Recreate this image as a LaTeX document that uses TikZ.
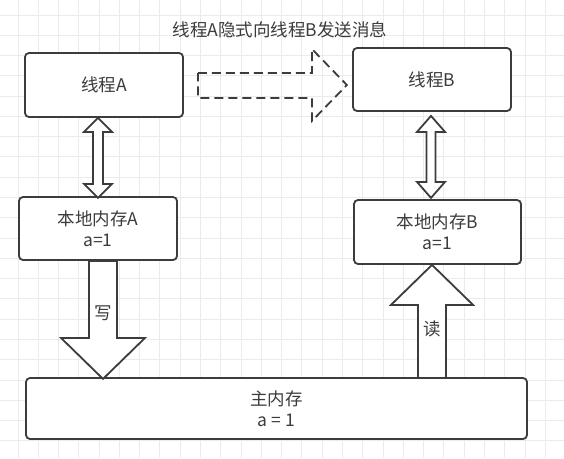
\documentclass[tikz,border=0pt]{standalone}
\usepackage{fontspec}
\setmainfont{Noto Sans CJK SC}
\usetikzlibrary{calc}
\definecolor{edge}{HTML}{3C3C3C}
\definecolor{gridgray}{HTML}{EBEBEB}
\tikzset{
	membox/.style={draw=edge, line width=1.8pt, fill=white, rounded corners=4pt, align=center, text=edge, inner sep=0pt},
	blockarrow/.style={draw=edge, line width=1.8pt, fill=white, line join=miter},
}

\begin{document}
\begin{tikzpicture}[x=1pt, y=-1pt, font=\fontsize{17.5}{21}\selectfont]
			%%%%% START %%%%%
			\useasboundingbox (0,0) rectangle (564,458);
			\fill[white] (0,0) rectangle (564,458);
			
			\foreach \k in {0,...,27} \draw[gridgray, line width=1pt] ({-2.28+20.28*\k},0) -- ({-2.28+20.28*\k},458);
			\foreach \k in {0,...,22} \draw[gridgray, line width=1pt] (0,{-5.28+20.28*\k}) -- (564,{-5.28+20.28*\k});
			
			\node[text=edge] (title) at (280,30) {线程A隐式向线程B发送消息};
			
			\node[membox, minimum width=158pt, minimum height=64pt] (thA) at (104,85) {线程A};
			\node[membox, minimum width=158pt, minimum height=63pt] (thB) at (432,79.5) {线程B};
			\node[membox, minimum width=158pt, minimum height=63pt] (lmA) at (98,228.5) {本地内存A\\a=1};
			\node[membox, minimum width=167pt, minimum height=64pt] (lmB) at (437.5,232) {本地内存B\\a=1};
			\node[membox, minimum width=501pt, minimum height=61pt] (main) at (276.5,408.5) {主内存\\a = 1};
			
			\coordinate (a1) at (lmA.north |- thA.south);
			\draw[blockarrow] (a1) -- ++(14,14) -- ++(-9,0) -- ++(0,52) -- ++(9,0) -- ++(-14,14) -- ++(-14,-14) -- ++(9,0) -- ++(0,-52) -- ++(-9,0) -- cycle;
			
			\coordinate (b1) at ($(thB.south)+(-1,4)$);
			\draw[blockarrow] (b1) -- ++(14,16) -- ++(-9.5,0) -- ++(0,50) -- ++(9.5,0) -- ++(-14,16) -- ++(-14,-16) -- ++(9.5,0) -- ++(0,-50) -- ++(-9.5,0) -- cycle;
			
			\coordinate (d1) at ($(thA.east)+(14,-12)$);
			\draw[blockarrow, fill=none, dash pattern=on 9pt off 5pt] (d1) -- ++(114,0) -- ++(0,-24) -- ++(35,36) -- ++(-35,36) -- ++(0,-23) -- ++(-114,0) -- cycle;
			
			\coordinate (w1) at ($(lmA.south)+(5,0)$);
			\draw[blockarrow] ($(w1)+(-14,0)$) -- ++(28,0) -- ++(0,77) -- ++(28,0) -- ++(-42,41) -- ++(-42,-41) -- ++(28,0) -- cycle;
			\node[text=edge] (write) at ($(w1)+(0,52)$) {写};
			
			\coordinate (r1) at ($(lmB.south)+(-5.5,0)$);
			\draw[blockarrow] (r1) -- ++(41,40) -- ++(-27,0) -- ++(0,73) -- ++(-28,0) -- ++(0,-73) -- ++(-27,0) -- cycle;
			\node[text=edge] (read) at ($(r1)+(0,64)$) {读};
			%%%%% END %%%%%
\end{tikzpicture}
\end{document}
